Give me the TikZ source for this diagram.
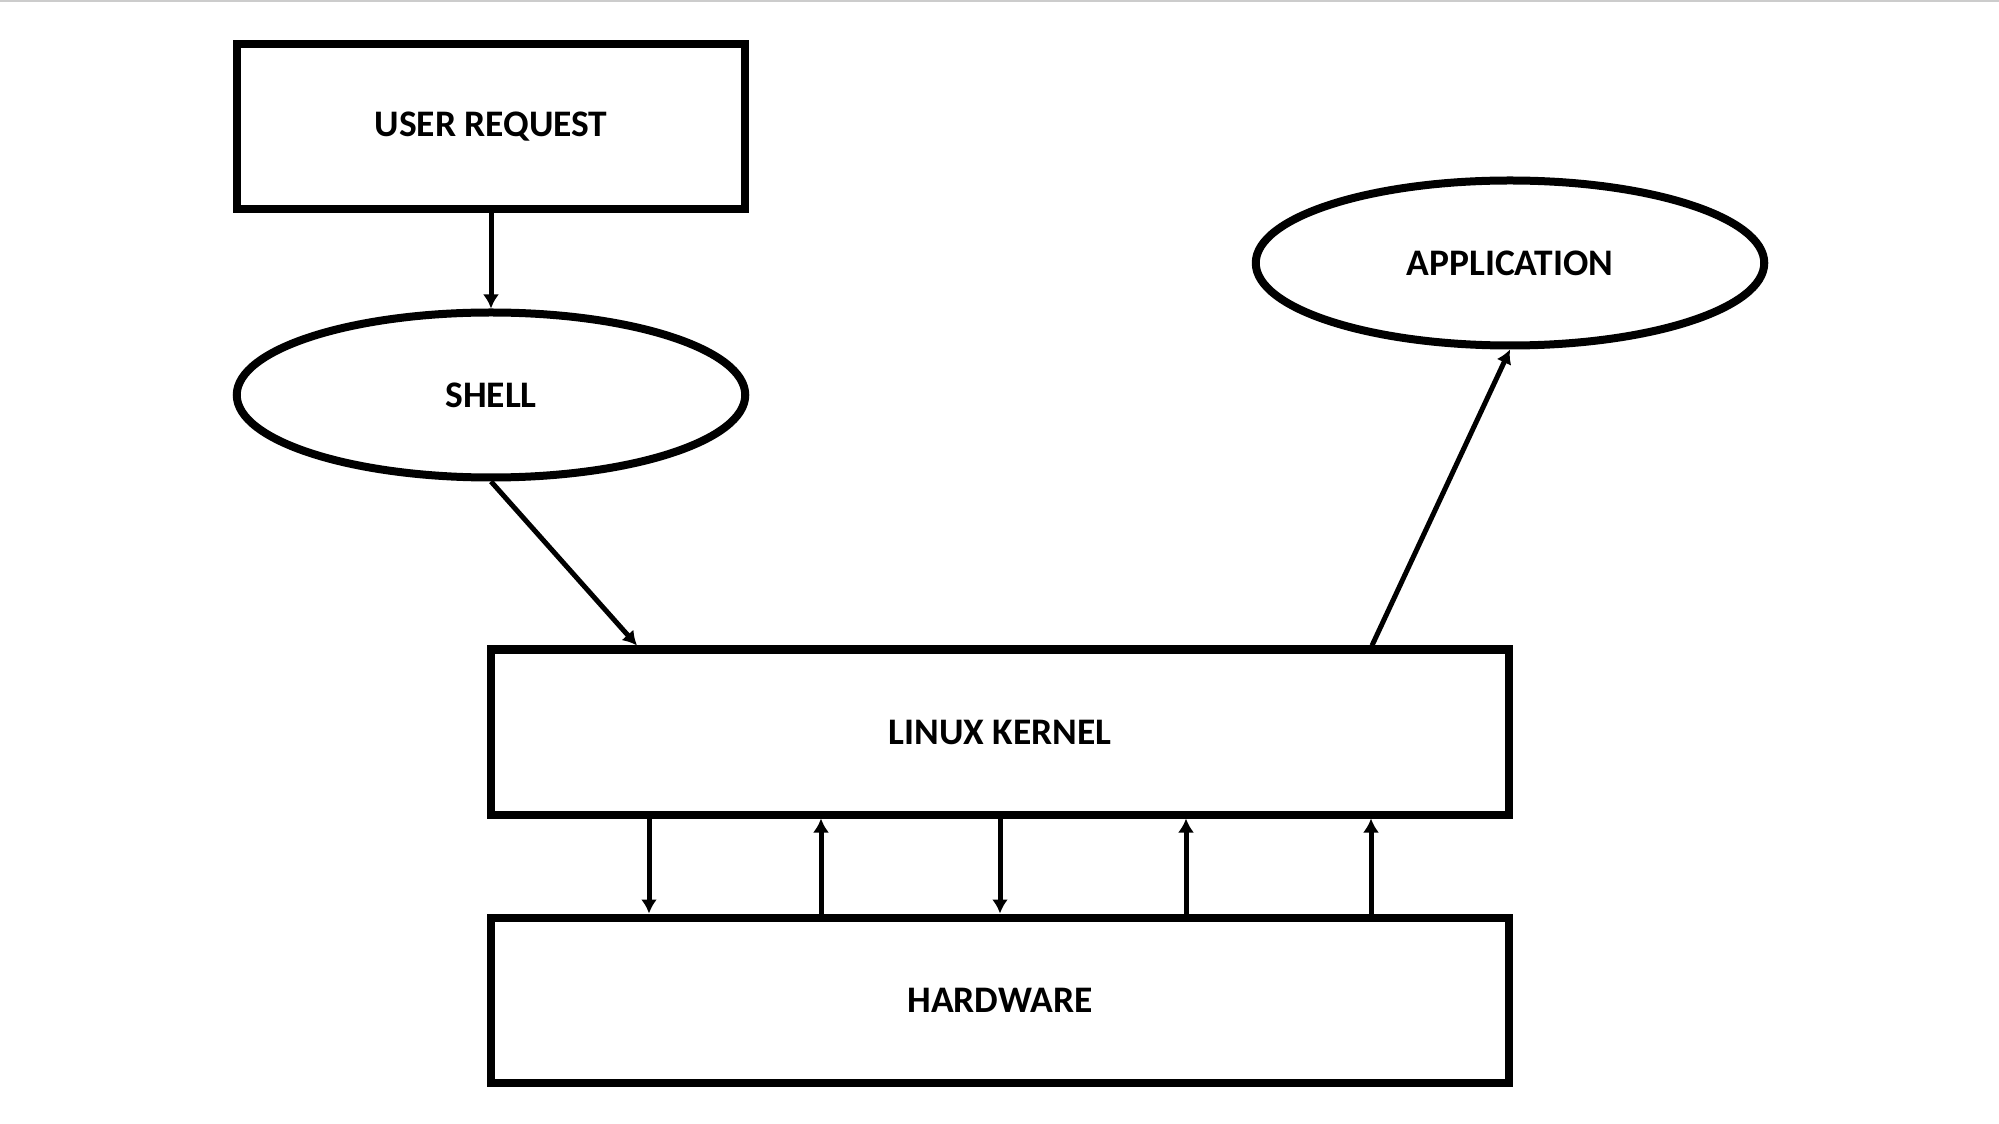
\documentclass[tikz,border=0pt]{standalone}
\usepackage{fontspec}
\setmainfont{Carlito}
\usetikzlibrary{shapes.geometric,arrows.meta,calc}
\tikzset{>={Latex[length=5.6pt,width=6.4pt]}}
\colorlet{linecol}{black}
\colorlet{edgecol}{gray!40}
\tikzstyle{block}=[draw=linecol,line width=3.2pt,rectangle,inner sep=0,
                   font=\bfseries\fontsize{15}{18}\selectfont]
\tikzstyle{bubble}=[draw=linecol,line width=3.2pt,ellipse,inner sep=0,
                    font=\bfseries\fontsize{15}{18}\selectfont]
\tikzstyle{link}=[->,line width=2pt,linecol]

\begin{document}
\begin{tikzpicture}[x=0.4pt,y=-0.4pt]
  \def\Ws{203.4pt}
  \def\Wl{407.4pt}
  \def\H{66pt}

  % FRAME
  \useasboundingbox (0,0) rectangle (1999,1124);
  \draw[edgecol,line width=0.8pt] (0,1) -- (1999,1);

  % BOXES
  \node[block,minimum width=\Ws,minimum height=\H] (user) at (491,127) {USER REQUEST};
  \node[bubble,minimum width=\Ws,minimum height=\H] (shell) at (491,395) {SHELL};
  \node[bubble,minimum width=\Ws,minimum height=\H] (app) at (1510,263) {APPLICATION};
  \node[block,minimum width=\Wl,minimum height=\H] (kernel) at (1000,732) {LINUX KERNEL};
  \node[block,minimum width=\Wl,minimum height=\H] (hw) at (1000,1000) {HARDWARE};

  % ARROWS
  \draw[link] (user) -- (shell);
  \draw[link] (shell.south) -- ($(kernel.north)+(-363,0)$);
  \draw[link] ($(kernel.north)+(372,0)$) -- (app.south);
  \foreach \dx in {-351,0}{
    \draw[link] ($(kernel.south)+(\dx,0)$) -- ($(hw.north)+(\dx,0)$);
  }
  \foreach \dx in {-179,186,371}{
    \draw[link] ($(hw.north)+(\dx,0)$) -- ($(kernel.south)+(\dx,0)$);
  }

\end{tikzpicture}
\end{document}
